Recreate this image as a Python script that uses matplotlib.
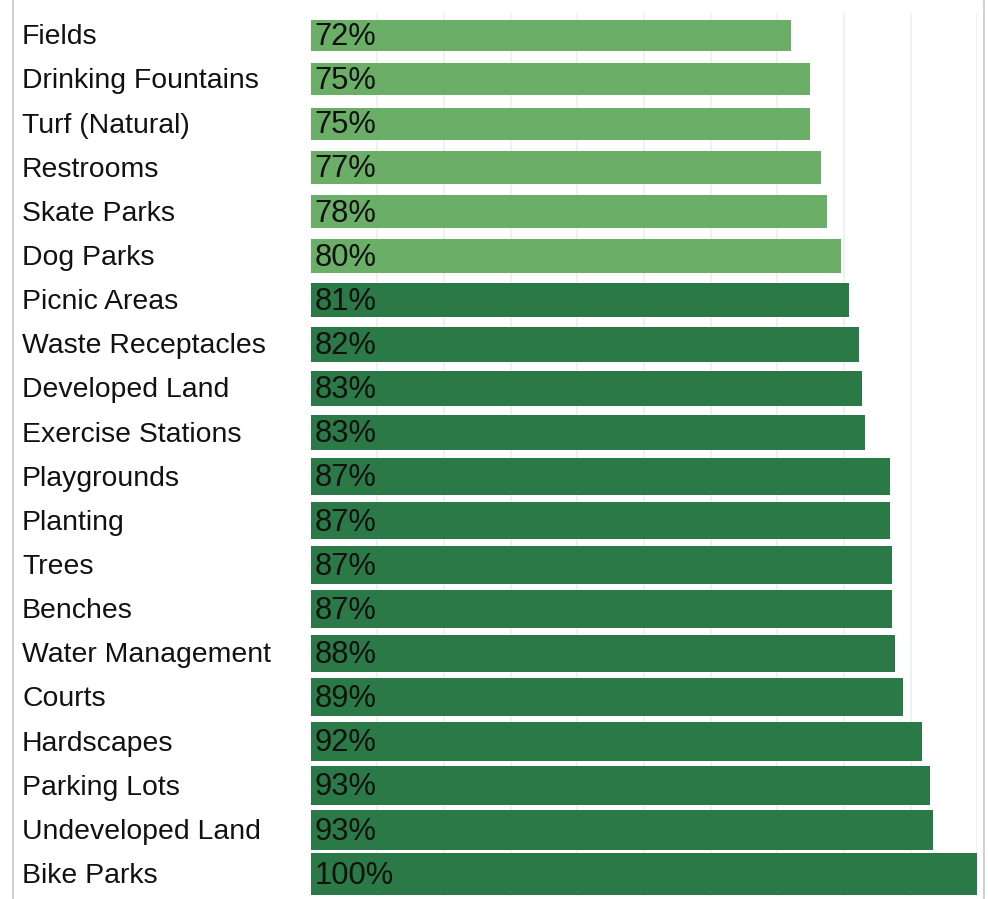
import matplotlib.pyplot as plt
from matplotlib.lines import Line2D

# ---- data ----
categories = ["Fields", "Drinking Fountains", "Turf (Natural)", "Restrooms", "Skate Parks",
              "Dog Parks", "Picnic Areas", "Waste Receptacles", "Developed Land",
              "Exercise Stations", "Playgrounds", "Planting", "Trees", "Benches",
              "Water Management", "Courts", "Hardscapes", "Parking Lots",
              "Undeveloped Land", "Bike Parks"]
values = [72.0, 74.85, 74.85, 76.5, 77.5, 79.6, 80.8, 82.2, 82.7, 83.15,
          86.95, 86.95, 87.2, 87.2, 87.65, 88.8, 91.7, 92.9, 93.35, 100.0]
pct_labels = [72, 75, 75, 77, 78, 80, 81, 82, 83, 83,
              87, 87, 87, 87, 88, 89, 92, 93, 93, 100]

LIGHT = "#6BAE68"
DARK = "#2A7946"

W, H = 988, 899
fig = plt.figure(figsize=(W / 100, H / 100), dpi=100)
plt.rcParams['font.family'] = ['Liberation Sans', 'DejaVu Sans']

# axes placed in pixel terms
x0, x1 = 310.7, 977.3
y_top, y_bot = 13.2, 896.0
ax = fig.add_axes([x0 / W, 1 - y_bot / H, (x1 - x0) / W, (y_bot - y_top) / H])

n = len(categories)
ypos = list(range(n))
# bar thickness scales with value (as in the source)
heights = [0.967 * v / 100 for v in values]
colors = [LIGHT if p <= 80 else DARK for p in pct_labels]

for x in range(10, 101, 10):
    ax.axvline(x, color="#efefef", lw=1.2, zorder=0)

ax.barh(ypos, values, height=heights, color=colors, zorder=2)

for y, p in zip(ypos, pct_labels):
    ax.text(0.6, y + 0.04, f"{p}%", va="center", ha="left", fontsize=22.2,
            color="#111111", zorder=3)

ax.set_xlim(0, 100)
ax.set_ylim(n - 0.5, -0.5)
ax.set_xticks([])
ax.set_yticks([])
for s in ax.spines.values():
    s.set_visible(False)

# category labels on the left
for y, c in zip(ypos, categories):
    ypix = y_top + (y + 0.5) * (y_bot - y_top) / n + 2
    fig.text(22 / W, 1 - ypix / H, c, ha="left", va="center", fontsize=20.4,
             color="#111111")

# thin frame lines at the left and right edges
fig.add_artist(Line2D([12.5 / W, 12.5 / W], [0, 1], color="#c8c8c8", lw=1.2))
fig.add_artist(Line2D([983.5 / W, 983.5 / W], [0, 1], color="#c8c8c8", lw=1.2))

fig.savefig("out.png", dpi=100)
